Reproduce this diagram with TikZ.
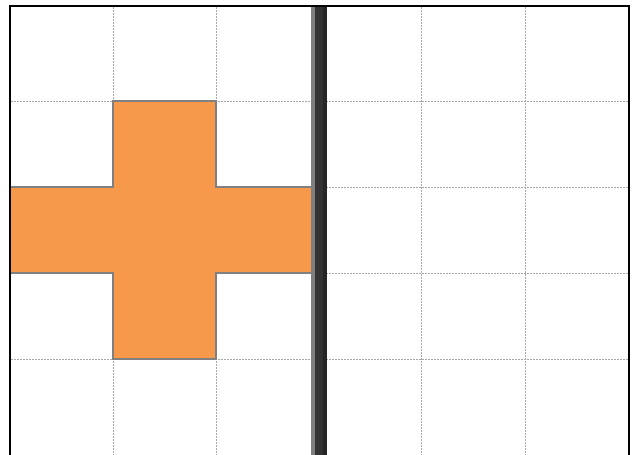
\documentclass[tikz,border=0pt]{standalone}
\usepackage{tikz}
\definecolor{crossfill}{HTML}{F7994A}
\definecolor{crossline}{HTML}{808080}
\definecolor{gridc}{HTML}{A8A8A8}
\definecolor{mirA}{HTML}{7F7F7F}
\definecolor{mirB}{HTML}{333333}
\definecolor{mirC}{HTML}{262626}
\tikzset{
  gridline/.style={gridc, line width=0.75pt, dash pattern=on 1.5pt off 0.75pt},
  crossshape/.style={fill=crossfill, draw=crossline, line width=1.5pt},
  framebox/.style={draw=black, line width=2pt}
}
\begin{document}
\begin{tikzpicture}[x=0.75pt,y=-0.75pt]
\useasboundingbox (0,0) rectangle (641,454);
\fill[white] (0,0) rectangle (641,454);
\begin{scope}
\clip (0,0) rectangle (641,454);
% grid
\foreach \gx in {113,216,421,525} {\draw[gridline] (\gx,7) -- (\gx,460);}
\foreach \gy in {101,187,273,359} {\draw[gridline] (11,\gy) -- (628,\gy);}
% cross
\draw[crossshape] (113,101) -- (216,101) -- (216,187) -- (312,187) -- (312,273) -- (216,273) -- (216,359) -- (113,359) -- (113,273) -- (10,273) -- (10,187) -- (113,187) -- cycle;
% mirror
\fill[mirA] (311,6) rectangle (315,460);
\fill[mirB] (315,6) rectangle (323,460);
\fill[mirC] (323,6) rectangle (327,460);
% frame
\draw[framebox] (10,6) rectangle (629,470);
\end{scope}
\end{tikzpicture}
\end{document}
